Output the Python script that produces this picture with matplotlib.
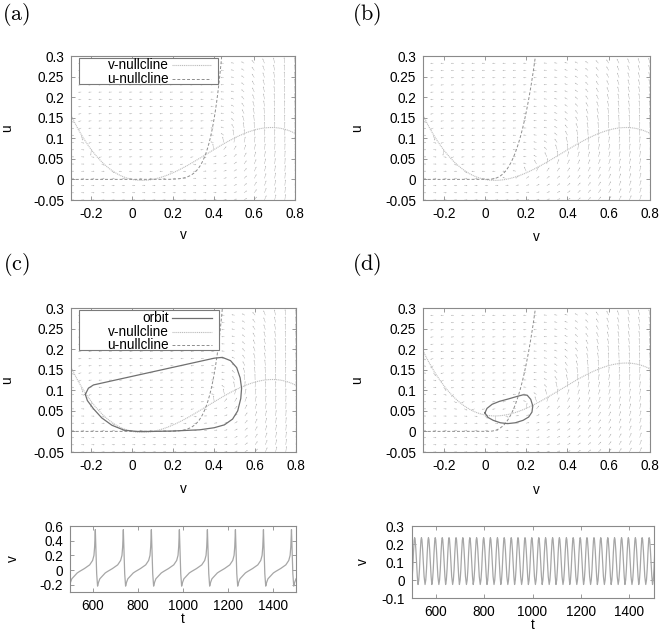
import numpy as np
import matplotlib.pyplot as plt
from matplotlib.patches import Rectangle
from matplotlib.ticker import FuncFormatter

plt.rcParams['font.family'] = ['Liberation Sans', 'DejaVu Sans']
plt.rcParams['mathtext.fontset'] = 'cm'
plt.rcParams['axes.unicode_minus'] = False
plt.rcParams['font.size'] = 9.5

# model: v' = v(v-a)(1-v) - u + I,  u' = eps*(g(v) - u)
a_thr = 0.1
eps = 0.03
I_ext = [0.0, 0.0, 0.0, 0.04]          # panels (a) (b) (c) (d)
g_coef = [213.0, 20.4, 213.0, 20.4]    # u-nullcline g(v) = k * v^p for v > 0
g_pow = [8, 3, 8, 3]

# limit cycle
orbit_c_v = [-0.23, -0.215, -0.19, -0.10, 0.0, 0.10, 0.20, 0.30, 0.40, 0.44, 0.48, 0.51,
             0.527, 0.534, 0.53, 0.515, 0.49, 0.45, 0.40, 0.33, 0.20, 0.10, 0.02, -0.04,
             -0.10, -0.15, -0.19, -0.22, -0.23]
orbit_c_u = [0.09, 0.105, 0.113, 0.123, 0.134, 0.145, 0.156, 0.167, 0.178, 0.180, 0.172, 0.155,
             0.13, 0.105, 0.08, 0.05, 0.03, 0.016, 0.009, 0.004, 0.001, 0.0, 0.0, 0.003,
             0.015, 0.033, 0.055, 0.075, 0.09]

# limit cycle
orbit_d_v = [0.0, 0.01, 0.035, 0.07, 0.114, 0.155, 0.185, 0.205, 0.222, 0.232, 0.228, 0.212,
             0.185, 0.147, 0.11, 0.075, 0.04, 0.015, 0.0]
orbit_d_u = [0.045, 0.056, 0.066, 0.073, 0.079, 0.085, 0.089, 0.088, 0.078, 0.062, 0.047, 0.035,
             0.027, 0.021, 0.019, 0.021, 0.027, 0.034, 0.045]

# time series (c): spike times and one cycle shape relative to the spike
peaks_c = [488, 612, 736, 860, 984, 1108, 1232, 1356, 1480, 1604]
cycle_c_dt = [-114, -110, -104, -92, -80, -70, -48, -25, -12, -6, -3, 0, 3, 6]
cycle_c_v = [-0.22, -0.17, -0.12, -0.08, -0.04, -0.02, 0.02, 0.07, 0.13, 0.2, 0.32, 0.55, 0.25, -0.05]

# time series (d): peak times and one cycle shape
peaks_d = [484, 513, 541, 570, 598, 627, 655, 684, 712, 741, 769, 798, 826, 855, 883, 912,
           940, 969, 997, 1026, 1054, 1083, 1111, 1140, 1168, 1197, 1225, 1254, 1282,
           1311, 1339, 1368, 1396, 1425, 1453, 1482, 1510]
cycle_d_dt = [-14, -11, -8, -5, -2, 0, 2, 5, 8, 11]
cycle_d_v = [-0.025, 0.0, 0.06, 0.15, 0.22, 0.235, 0.225, 0.17, 0.09, 0.02]

phase_ticks_x = [-0.2, 0, 0.2, 0.4, 0.6, 0.8]
phase_ticks_y = [-0.05, 0, 0.05, 0.1, 0.15, 0.2, 0.25, 0.3]

vcol = '#bdbdbd'
ucol = '#8e8e8e'
ocol = '#707070'
fcol = '#a4a4a4'
v_style = dict(color=vcol, ls=(0, (1, 0.7)), lw=0.8)
u_style = dict(color=ucol, ls=(0, (3, 2)), lw=0.7)
o_style = dict(color=ocol, ls='-', lw=0.9)

fmt = FuncFormatter(lambda x, p: '%g' % round(x, 3))


def cubic(v, I):
    return v * (v - a_thr) * (1 - v) + I


def gfun(v, k, p):
    return k * np.clip(v, 0, None) ** p


def style_axes(ax, xl, yl, xpos, ypos):
    for s in ax.spines.values():
        s.set_color('#8a8a8a')
        s.set_linewidth(0.8)
    ax.tick_params(direction='in', top=True, right=True, length=3, width=0.6,
                   color='#8a8a8a', labelsize=9.8, pad=5)
    ax.xaxis.set_major_formatter(fmt)
    ax.yaxis.set_major_formatter(fmt)
    ax.set_xlabel(xl, fontsize=9.8)
    ax.set_ylabel(yl, fontsize=9.8)
    ax.xaxis.set_label_coords(0.5, xpos)
    ax.yaxis.set_label_coords(ypos, 0.5)


def legend_box(ax, entries, rows, bottom):
    ax.add_patch(Rectangle((0.036, bottom), 0.622, 0.986 - bottom, transform=ax.transAxes,
                           fc='white', ec='#7a7a7a', lw=0.8, zorder=5))
    for (label, st), y in zip(entries, rows):
        ax.text(0.435, y, label, transform=ax.transAxes, ha='right', va='center',
                fontsize=9.8, zorder=6)
        ax.plot([0.45, 0.625], [y, y], transform=ax.transAxes, zorder=6, **st)


def phase(ax, i, xpos, ypos, orbit=None, legend=None):
    I, k, p = I_ext[i], g_coef[i], g_pow[i]
    vg, ug = np.meshgrid(np.arange(-0.3, 0.801, 0.05), np.arange(-0.05, 0.301, 0.0175))
    dv = cubic(vg, I) - ug
    du = eps * (gfun(vg, k, p) - ug)
    n = np.hypot(dv, du)
    h = 0.015
    ax.quiver(vg, ug, dv / n * h, du / n * h, angles='xy', scale_units='xy', scale=1,
              color=fcol, width=0.0018, headwidth=3, headlength=3.5, headaxislength=3,
              zorder=1)
    vs = np.linspace(-0.3, 0.8, 600)
    if orbit is not None:
        ax.plot(orbit[0], orbit[1], zorder=3, **o_style)
    ax.plot(vs, cubic(vs, I), zorder=2, **v_style)
    gu = gfun(vs, k, p)
    m = gu < 0.4
    ax.plot(vs[m], gu[m], zorder=2, **u_style)
    ax.set_xlim(-0.3, 0.8)
    ax.set_ylim(-0.05, 0.3)
    ax.set_xticks(phase_ticks_x)
    ax.set_yticks(phase_ticks_y)
    style_axes(ax, 'v', 'u', xpos, ypos)
    if legend == 2:
        legend_box(ax, [('v-nullcline', v_style), ('u-nullcline', u_style)],
                   [0.9375, 0.84], 0.806)
    elif legend == 3:
        legend_box(ax, [('orbit', o_style), ('v-nullcline', v_style), ('u-nullcline', u_style)],
                   [0.928, 0.835, 0.743], 0.708)


def build_series(peaks, dts, vals):
    t, v = [], []
    for pk in peaks:
        for d, y in zip(dts, vals):
            t.append(pk + d)
            v.append(y)
    return t, v


fig = plt.figure(figsize=(6.6, 6.32), dpi=100)
W, H = 660.0, 632.0


def add_ax(x0, x1, y0, y1):
    return fig.add_axes([x0 / W, 1 - y1 / H, (x1 - x0) / W, (y1 - y0) / H])


ax_a = add_ax(71, 295, 56, 200)
ax_b = add_ax(423, 650, 56, 200)
ax_c = add_ax(71, 296, 308, 452)
ax_d = add_ax(423, 650, 308, 452)
ax_e = add_ax(70, 296, 526, 592)
ax_f = add_ax(411.5, 653.5, 526, 598)

phase(ax_a, 0, -0.195, -0.255, legend=2)
phase(ax_b, 1, -0.21, -0.26)
phase(ax_c, 2, -0.21, -0.255, orbit=(orbit_c_v, orbit_c_u), legend=3)
phase(ax_d, 3, -0.215, -0.26, orbit=(orbit_d_v, orbit_d_u))

tc, vc = build_series(peaks_c, cycle_c_dt, cycle_c_v)
ax_e.plot(tc, vc, color='#a6a6a6', lw=0.9)
ax_e.set_xlim(500, 1500)
ax_e.set_ylim(-0.3, 0.6)
ax_e.set_xticks([600, 800, 1000, 1200, 1400])
ax_e.set_yticks([-0.2, 0, 0.2, 0.4, 0.6])
style_axes(ax_e, 't', 'v', -0.30, -0.22)

td, vd = build_series(peaks_d, cycle_d_dt, cycle_d_v)
ax_f.plot(td, vd, color='#a6a6a6', lw=0.9)
ax_f.set_xlim(500, 1500)
ax_f.set_ylim(-0.1, 0.3)
ax_f.set_xticks([600, 800, 1000, 1200, 1400])
ax_f.set_yticks([-0.1, 0, 0.1, 0.2, 0.3])
style_axes(ax_f, 't', 'v', -0.275, -0.17)

for lab, x, y in [('(a)', 16, 14), ('(b)', 367, 14), ('(c)', 16, 264), ('(d)', 367, 264)]:
    fig.text(x / W, 1 - y / H, r'$\mathrm{%s}$' % lab, ha='center', va='center', fontsize=16)

fig.savefig('out.png', dpi=100)
